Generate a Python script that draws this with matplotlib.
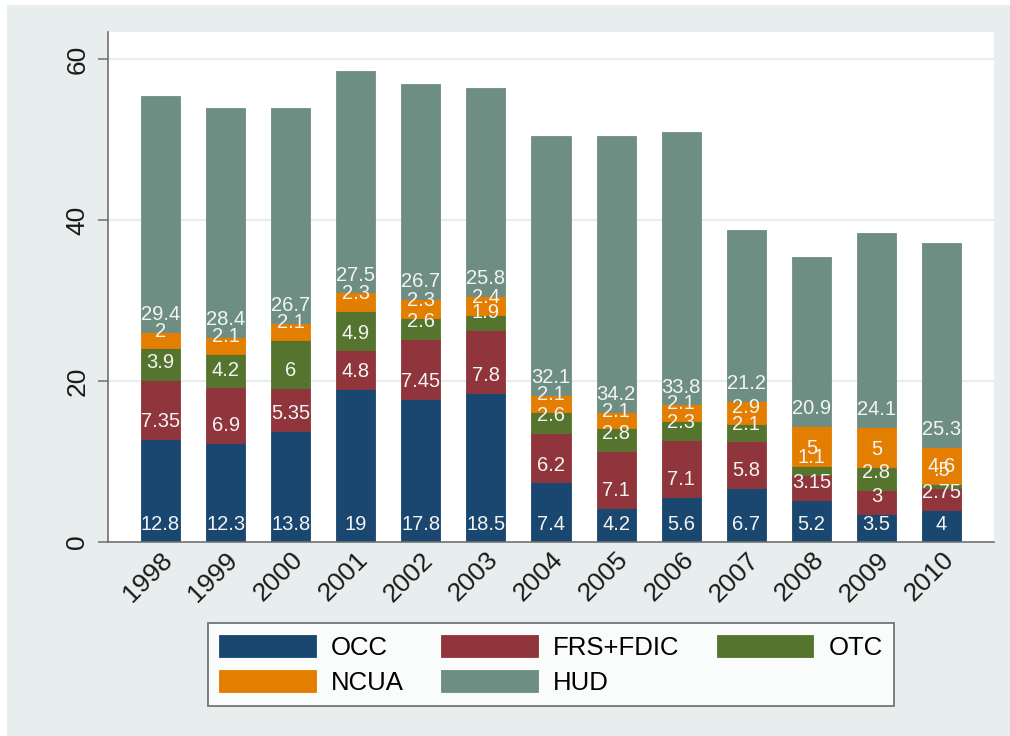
import matplotlib
matplotlib.use("Agg")
import matplotlib.pyplot as plt
from matplotlib.patches import Rectangle
import numpy as np

plt.rcParams['font.family'] = ['Liberation Sans', 'DejaVu Sans']

# donnees
years = ["1998", "1999", "2000", "2001", "2002", "2003", "2004",
         "2005", "2006", "2007", "2008", "2009", "2010"]
occ = [12.8, 12.3, 13.8, 19, 17.8, 18.5, 7.4, 4.2, 5.6, 6.7, 5.2, 3.5, 4]
frs_fdic = [7.35, 6.9, 5.35, 4.8, 7.45, 7.8, 6.2, 7.1, 7.1, 5.8, 3.15, 3, 2.75]
otc = [3.9, 4.2, 6, 4.9, 2.6, 1.9, 2.6, 2.8, 2.3, 2.1, 1.1, 2.8, 0.5]
ncua = [2, 2.1, 2.1, 2.3, 2.3, 2.4, 2.1, 2.1, 2.1, 2.9, 5, 5, 4.6]
hud = [29.4, 28.4, 26.7, 27.5, 26.7, 25.8, 32.1, 34.2, 33.8, 21.2, 20.9, 24.1, 25.3]

series_names = ["OCC", "FRS+FDIC", "OTC", "NCUA", "HUD"]
series_vals = [occ, frs_fdic, otc, ncua, hud]
colors = ["#1A476F", "#90353B", "#55752F", "#E37E00", "#6E8E84"]


def fmt(v):
    # format a la Stata : 0.5 -> .5
    s = f"{v:g}"
    if s.startswith("0."):
        s = s[1:]
    return s


fig = plt.figure(figsize=(10.1, 7.36), dpi=100, facecolor="white")
# fond gris du graphique
fig.patches.append(Rectangle((7 / 1010, 0), 1 - 7 / 1010, 1 - 5 / 736,
                             transform=fig.transFigure, facecolor="#E8EEEE",
                             edgecolor="none", zorder=-10))

ax = fig.add_axes([108 / 1010, (736 - 542) / 736, (994 - 108) / 1010, 510 / 736])
ax.set_facecolor("white")

x = np.arange(len(years))
bottom = np.zeros(len(years))
handles = []
for name, vals, col in zip(series_names, series_vals, colors):
    vals = np.array(vals)
    b = ax.bar(x, vals, width=0.6, bottom=bottom, color=col, label=name,
               edgecolor=col, linewidth=0.6, zorder=3)
    handles.append(b)
    for xi, base, v in zip(x, bottom, vals):
        ax.annotate(fmt(v), (xi, base), xytext=(0, 8.5), textcoords="offset points",
                    ha="center", va="baseline", color="#F4F4F4", fontsize=14.5,
                    zorder=5)
    bottom = bottom + vals

ax.set_xlim(-0.807, len(years) - 1 + 0.807)
ax.set_ylim(0, 63.35)
ax.set_yticks([0, 20, 40, 60])
ax.set_yticklabels(["0", "20", "40", "60"], rotation=90, va="center")
ax.set_xticks(x)
ax.set_xticklabels(years, rotation=45, ha="right", va="top", rotation_mode="anchor")

ax.tick_params(axis="y", length=7.5, width=1.1, color="#707070", pad=6,
               labelsize=19, labelcolor="#1A1A1A")
ax.tick_params(axis="x", length=0, pad=4, labelsize=19, labelcolor="#1A1A1A")

for s in ["top", "right"]:
    ax.spines[s].set_visible(False)
for s in ["left", "bottom"]:
    ax.spines[s].set_color("#707070")
    ax.spines[s].set_linewidth(1.2)
    ax.spines[s].set_zorder(6)

for yv in [20, 40, 60]:
    ax.axhline(yv, color="#E6EEEE", linewidth=1.6, zorder=1)

# legende : ordre ligne par ligne comme l'original
order = [0, 3, 1, 4, 2]
leg = ax.legend([handles[i] for i in order], [series_names[i] for i in order],
                loc="upper center", bbox_to_anchor=(0.5, -0.159), ncol=3,
                fontsize=18.5, frameon=True, fancybox=False, shadow=False,
                handlelength=3.75, handleheight=0.95, handletextpad=0.6,
                columnspacing=1.45, labelspacing=0.4, borderpad=0.45,
                borderaxespad=0)
leg.get_frame().set_edgecolor("#555555")
leg.get_frame().set_linewidth(1.3)
leg.get_frame().set_facecolor("white")

fig.savefig("out.png", dpi=100)
